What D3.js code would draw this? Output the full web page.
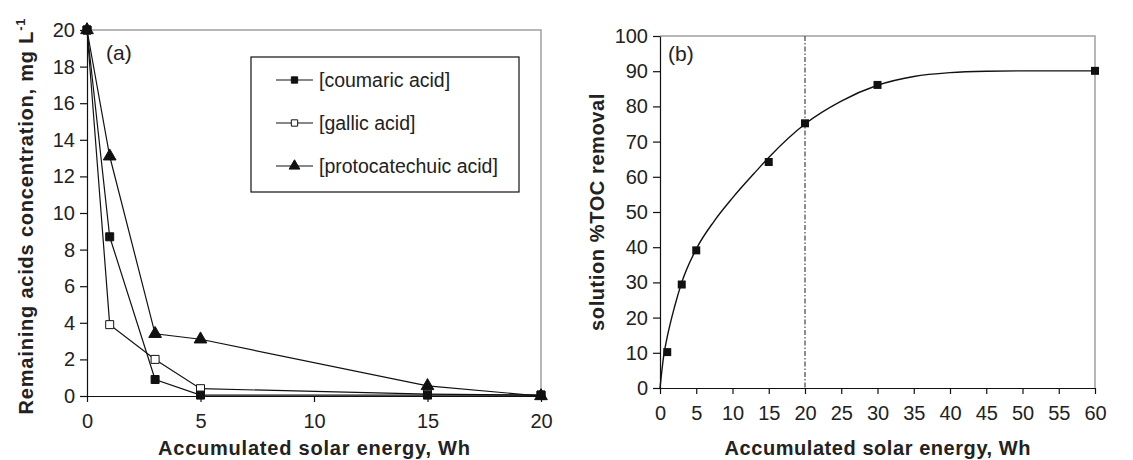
<!DOCTYPE html>
<html>
<head>
<meta charset="utf-8">
<script src="https://cdn.jsdelivr.net/npm/d3@7"></script>
<style>
  body { margin: 0; background: #fff; }
  svg { display: block; font-family: "Liberation Sans", Arial, sans-serif; }
  .title { font-weight: bold; font-size: 20px; fill: #222; }
</style>
</head>
<body>
<div id="chart"></div>
<script>
// panel (a) data
const energyA = [0, 1, 3, 5, 15, 20];
const coumaric = [20, 8.7, 0.9, 0.05, 0.05, 0.05];
const gallic = [20, 3.9, 2.0, 0.4, 0.1, 0.05];
const protocatechuic = [20, 13.1, 3.4, 3.1, 0.55, 0.0];
const seriesNames = ["[coumaric acid]", "[gallic acid]", "[protocatechuic acid]"];
const ticksXA = [0, 5, 10, 15, 20];
const ticksYA = [0, 2, 4, 6, 8, 10, 12, 14, 16, 18, 20];

// panel (b) data
const energyB = [1, 3, 5, 15, 20, 30, 60];
const tocRemoval = [10.2, 29.4, 39.1, 64.2, 75.2, 86.1, 90.1];
// fitted curve
const fitX = [0, 0.5, 1, 2, 3, 5, 7.5, 10, 13, 15, 20, 25, 30, 35, 40, 45, 50, 60];
const fitY = [0, 9, 14.5, 23, 30, 39.5, 47.5, 54, 61, 65.5, 75, 81.5, 86, 88.5, 89.6, 90, 90.1, 90.1];
const markerLine = 20;
const ticksXB = d3.range(0, 61, 5);
const ticksYB = d3.range(0, 101, 10);

const svg = d3.select("#chart").append("svg")
    .attr("width", 1133)
    .attr("height", 460);

const sym = {
    square: d3.symbol().type(d3.symbolSquare).size(64),
    triangle: d3.symbol().type(d3.symbolTriangle).size(70)
};

function frame(g, x, y, xTicks, yTicks) {
    const [x0, x1] = x.range();
    const [y0, y1] = y.range();
    // gray top/right border
    g.append("path")
        .attr("d", `M${x0},${y1}H${x1}V${y0}`)
        .attr("fill", "none")
        .attr("stroke", "#a0a0a0")
        .attr("stroke-width", 1.5);
    g.append("g")
        .attr("transform", `translate(0,${y0})`)
        .call(d3.axisBottom(x).tickValues(xTicks).tickSize(6).tickPadding(12).tickSizeOuter(0));
    g.append("g")
        .attr("transform", `translate(${x0},0)`)
        .call(d3.axisLeft(y).tickValues(yTicks).tickSize(7).tickPadding(5).tickSizeOuter(0));
    g.selectAll(".domain, .tick line").attr("stroke", "#111").attr("stroke-width", 1.2);
    g.selectAll(".tick text")
        .attr("font-family", "Liberation Sans, Arial, sans-serif")
        .style("font-size", "20px")
        .attr("fill", "#222");
}

// ---------- panel (a) ----------
const xA = d3.scaleLinear().domain([0, 20]).range([87, 541]);
const yA = d3.scaleLinear().domain([0, 20]).range([396, 30]);
const gA = svg.append("g");
frame(gA, xA, yA, ticksXA, ticksYA);

const seriesA = [
    { name: seriesNames[0], values: coumaric, shape: "square", fill: "#111" },
    { name: seriesNames[1], values: gallic, shape: "square", fill: "#fff" },
    { name: seriesNames[2], values: protocatechuic, shape: "triangle", fill: "#111" }
];

const lineA = d3.line()
    .x(d => xA(d[0]))
    .y(d => yA(d[1]));

// coumaric drawn last so its squares sit on top, as in the original
seriesA.slice().reverse().forEach(s => {
    const pts = energyA.map((e, i) => [e, s.values[i]]);
    gA.append("path")
        .attr("d", lineA(pts))
        .attr("fill", "none")
        .attr("stroke", "#111")
        .attr("stroke-width", 1.2);
    gA.selectAll(null)
        .data(pts)
        .enter()
        .append("path")
        .attr("d", sym[s.shape])
        .attr("transform", d => `translate(${xA(d[0])},${yA(d[1])})`)
        .attr("fill", s.fill)
        .attr("stroke", "#111")
        .attr("stroke-width", 1);
});

gA.append("text")
    .attr("x", 106)
    .attr("y", 60)
    .style("font-size", "21px")
    .attr("fill", "#222")
    .text("(a)");

// legend
const legend = gA.append("g");
legend.append("rect")
    .attr("x", 251).attr("y", 57)
    .attr("width", 268).attr("height", 135)
    .attr("fill", "#fff")
    .attr("stroke", "#111")
    .attr("stroke-width", 1.2);
seriesA.forEach((s, i) => {
    const ly = 80 + i * 43;
    legend.append("line")
        .attr("x1", 276).attr("x2", 313)
        .attr("y1", ly).attr("y2", ly)
        .attr("stroke", "#111")
        .attr("stroke-width", 1.2);
    legend.append("path")
        .attr("d", d3.symbol().type(s.shape === "square" ? d3.symbolSquare : d3.symbolTriangle).size(s.shape === "square" ? 40 : 50)())
        .attr("transform", `translate(294.5,${ly})`)
        .attr("fill", s.fill)
        .attr("stroke", "#111");
    legend.append("text")
        .attr("x", 319)
        .attr("y", ly + 7)
        .style("font-size", "19.5px")
        .attr("fill", "#222")
        .text(s.name);
});

gA.append("text")
    .attr("class", "title")
    .attr("x", xA(10))
    .attr("y", 455)
    .attr("text-anchor", "middle")
    .attr("textLength", 312)
    .attr("lengthAdjust", "spacing")
    .text("Accumulated solar energy, Wh");

const yTitleA = gA.append("text")
    .attr("class", "title")
    .attr("transform", `translate(33,${(396 + 30) / 2 + 3}) rotate(-90)`)
    .attr("text-anchor", "middle")
    .style("letter-spacing", "0.8px");
yTitleA.append("tspan").text("Remaining acids concentration, mg L");
yTitleA.append("tspan").attr("dy", -8).style("font-size", "13px").text("-1");

// ---------- panel (b) ----------
const xB = d3.scaleLinear().domain([0, 60]).range([660, 1095]);
const yB = d3.scaleLinear().domain([0, 100]).range([388, 36]);
const gB = svg.append("g");
frame(gB, xB, yB, ticksXB, ticksYB);

gB.append("line")
    .attr("x1", xB(markerLine)).attr("x2", xB(markerLine))
    .attr("y1", yB(100)).attr("y2", yB(0))
    .attr("stroke", "#444")
    .attr("stroke-width", 1.2)
    .attr("stroke-dasharray", "5,2,1.5,2");

const fitLine = d3.line()
    .x(d => xB(d[0]))
    .y(d => yB(d[1]))
    .curve(d3.curveMonotoneX);

gB.append("path")
    .attr("d", fitLine(fitX.map((v, i) => [v, fitY[i]])))
    .attr("fill", "none")
    .attr("stroke", "#111")
    .attr("stroke-width", 1.4);

gB.selectAll(null)
    .data(energyB.map((e, i) => [e, tocRemoval[i]]))
    .enter()
    .append("path")
    .attr("d", sym.square)
    .attr("transform", d => `translate(${xB(d[0])},${yB(d[1])})`)
    .attr("fill", "#111");

gB.append("text")
    .attr("x", 668)
    .attr("y", 61)
    .style("font-size", "21px")
    .attr("fill", "#222")
    .text("(b)");

gB.append("text")
    .attr("class", "title")
    .attr("x", xB(30))
    .attr("y", 455)
    .attr("text-anchor", "middle")
    .attr("textLength", 306)
    .attr("lengthAdjust", "spacing")
    .text("Accumulated solar energy, Wh");

gB.append("text")
    .attr("class", "title")
    .attr("transform", `translate(604,${(388 + 36) / 2}) rotate(-90)`)
    .attr("text-anchor", "middle")
    .style("letter-spacing", "0.6px")
    .text("solution %TOC removal");
</script>
</body>
</html>
